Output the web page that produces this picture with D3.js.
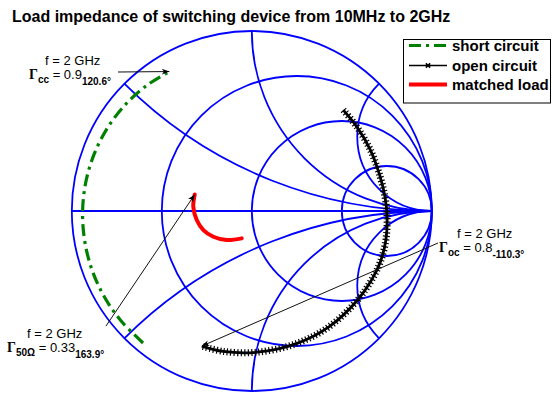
<!DOCTYPE html>
<html>
<head>
<meta charset="utf-8">
<script src="https://cdn.jsdelivr.net/npm/d3@7"></script>
<style>
  body { margin: 0; background: #fff; }
  svg { display: block; }
  text { font-family: "Liberation Sans", Arial, sans-serif; fill: #000; }
</style>
</head>
<body>
<svg id="chart" width="552" height="395"></svg>
<script>
// Smith chart grid: normalised resistance circles and reactance arcs
const resistanceCircles = [1 / 3, 1, 3];
const reactanceArcs = [0.414, 1, 2.414];

// Reflection coefficient traces from 10 MHz to 2 GHz: |Γ| and angle in degrees
const shortMag = [0.950, 0.949, 0.948, 0.946, 0.943, 0.940, 0.936, 0.931, 0.925, 0.918, 0.910, 0.900];
const shortAng = [-129.5, -140, -150, -160, -170, 180, 170, 160, 150, 140, 130, 120.6];

const openMag = [0.757, 0.748, 0.741, 0.738, 0.744, 0.752, 0.762, 0.768, 0.768, 0.768, 0.773, 0.777, 0.785, 0.796, 0.800];
const openAng = [47.8, 38.8, 27.3, 15.0, 6.1, -2.4, -12.1, -21.5, -29.9, -40.2, -56.0, -71.1, -87.9, -101.5, -110.3];

const matchedMag = [0.162, 0.213, 0.257, 0.289, 0.310, 0.326, 0.330];
const matchedAng = [-110.2, -130.8, -146.2, -158.5, -170.7, 175.8, 163.9];

const legendLabels = ["short circuit", "open circuit", "matched load"];
const titleText = "Load impedance of switching device from 10MHz to 2GHz";

const svg = d3.select("#chart");
const cx = 251.8, cy = 211, R = 180;
const gx = d3.scaleLinear().domain([-1, 1]).range([cx - R, cx + R]);
const gy = d3.scaleLinear().domain([-1, 1]).range([cy + R, cy - R]);
const len = v => gx(v) - gx(0);
const blue = "#0000ff";

// title
svg.append("text")
  .attr("x", 12).attr("y", 22)
  .style("font-size", "16px").style("font-weight", "bold")
  .text(titleText);

// clip to the unit circle
svg.append("defs").append("clipPath").attr("id", "unit")
  .append("circle").attr("cx", gx(0)).attr("cy", gy(0)).attr("r", len(1));

const grid = svg.append("g").attr("fill", "none").attr("stroke", blue).attr("stroke-width", 1.8);

grid.append("line")
  .attr("x1", gx(-1)).attr("x2", gx(1)).attr("y1", gy(0)).attr("y2", gy(0));

resistanceCircles.forEach(r => {
  grid.append("circle")
    .attr("cx", gx(r / (1 + r))).attr("cy", gy(0)).attr("r", len(1 / (1 + r)));
});

const arcs = grid.append("g").attr("clip-path", "url(#unit)");
reactanceArcs.forEach(x => {
  [1, -1].forEach(s => {
    arcs.append("circle")
      .attr("cx", gx(1)).attr("cy", gy(s / x)).attr("r", len(1 / x));
  });
});

grid.append("circle").attr("cx", gx(0)).attr("cy", gy(0)).attr("r", len(1));

// traces
const toPt = (m, a) => [gx(m * Math.cos(a * Math.PI / 180)), gy(m * Math.sin(a * Math.PI / 180))];
const line = d3.line().curve(d3.curveCatmullRom.alpha(0.5));
const shortPts = shortMag.map((m, i) => toPt(m, shortAng[i]));
const openPts = openMag.map((m, i) => toPt(m, openAng[i]));
const matchedPts = matchedMag.map((m, i) => toPt(m, matchedAng[i]));

svg.append("path").attr("d", line(shortPts))
  .attr("fill", "none").attr("stroke", "#008000").attr("stroke-width", 3.2)
  .attr("stroke-dasharray", "12 5 3 5");

svg.append("path").attr("d", line(openPts))
  .attr("fill", "none").attr("stroke", "#000").attr("stroke-width", 2.8);
svg.append("path").attr("d", line(openPts))
  .attr("fill", "none").attr("stroke", "#000").attr("stroke-width", 7)
  .attr("stroke-dasharray", "1.2 2.3");

svg.append("path").attr("d", line(matchedPts))
  .attr("fill", "none").attr("stroke", "#ff0000").attr("stroke-width", 4)
  .attr("stroke-linecap", "round");

// legend
const lg = svg.append("g");
lg.append("rect").attr("x", 403.5).attr("y", 39.5).attr("width", 147).attr("height", 63.5)
  .attr("fill", "#fff").attr("stroke", "#000").attr("stroke-width", 1);
const rowY = [45.5, 65.5, 84.5];
lg.append("line").attr("x1", 409).attr("x2", 447).attr("y1", rowY[0]).attr("y2", rowY[0])
  .attr("stroke", "#008000").attr("stroke-width", 3.2).attr("stroke-dasharray", "12 5 3 5");
lg.append("line").attr("x1", 409).attr("x2", 447).attr("y1", rowY[1]).attr("y2", rowY[1])
  .attr("stroke", "#000").attr("stroke-width", 1.6);
lg.append("path").attr("d", d3.symbol(d3.symbolX, 14)())
  .attr("transform", `translate(428,${rowY[1]})`).attr("stroke", "#000").attr("stroke-width", 1.6);
lg.append("line").attr("x1", 409).attr("x2", 447).attr("y1", rowY[2]).attr("y2", rowY[2])
  .attr("stroke", "#ff0000").attr("stroke-width", 4);
legendLabels.forEach((t, i) => {
  lg.append("text").attr("x", 452).attr("y", rowY[i] + 5)
    .style("font-size", "15px").style("font-weight", "bold").text(t);
});

// annotation arrows
const defs = svg.select("defs");
defs.append("marker").attr("id", "head").attr("viewBox", "-10 -5 12 10")
  .attr("refX", 0).attr("refY", 0).attr("markerWidth", 10).attr("markerHeight", 10)
  .attr("markerUnits", "userSpaceOnUse").attr("orient", "auto")
  .append("path").attr("d", "M0,0 L-9,-3.5 L-6.5,0 L-9,3.5 Z").attr("fill", "#000");

function arrow(from, to) {
  svg.append("line")
    .attr("x1", from[0]).attr("y1", from[1]).attr("x2", to[0]).attr("y2", to[1])
    .attr("stroke", "#111").attr("stroke-width", 1).attr("marker-end", "url(#head)");
}
arrow([118, 72], shortPts[shortPts.length - 1]);
arrow([106, 326], matchedPts[matchedPts.length - 1]);
arrow([438, 243], openPts[openPts.length - 1]);

// annotation labels: frequency line above the Γ value line
function gammaLabel(x, y, fx, sub, mag, ang) {
  svg.append("text").attr("x", fx).attr("y", y - 14)
    .style("font-size", "13px").text("f = 2 GHz");
  const t = svg.append("text").attr("x", x).attr("y", y);
  t.append("tspan").style("font-family", "'Liberation Serif', serif")
    .style("font-size", "14px").style("font-weight", "bold").text("Γ");
  t.append("tspan").attr("dy", 4).style("font-size", "10px").style("font-weight", "bold").text(sub);
  t.append("tspan").attr("dy", -4).style("font-size", "13px").text(" = " + mag);
  t.append("tspan").attr("dy", 6).style("font-size", "10px").style("font-weight", "bold").text(ang + "°");
}
gammaLabel(29, 79, 45, "cc", shortMag[shortMag.length - 1].toFixed(1), shortAng[shortAng.length - 1].toFixed(1));
gammaLabel(7, 352, 27, "50Ω", matchedMag[matchedMag.length - 1].toFixed(2), matchedAng[matchedAng.length - 1].toFixed(1));
gammaLabel(439, 252, 457, "oc", openMag[openMag.length - 1].toFixed(1), openAng[openAng.length - 1].toFixed(1));
</script>
</body>
</html>
